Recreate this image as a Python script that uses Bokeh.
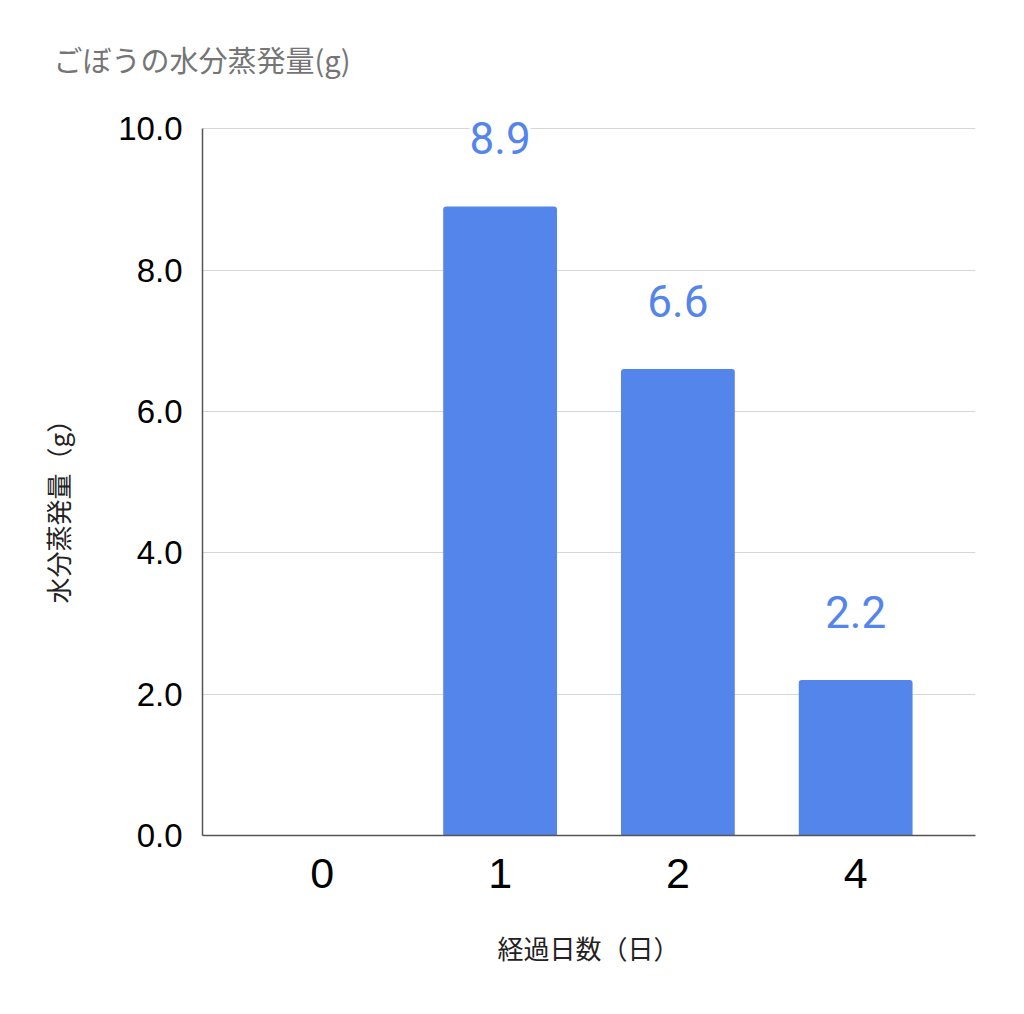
from bokeh.plotting import figure
from bokeh.models import (ColumnDataSource, FactorRange, Range1d, FixedTicker,
                          NumeralTickFormatter, LabelSet, Title)
from bokeh.core.properties import value
from bokeh.embed import file_html
from bokeh.resources import INLINE

# ---- data ----
days = ["0", "1", "2", "4"]
evaporation = [0.0, 8.9, 6.6, 2.2]
y_ticks = [0, 2, 4, 6, 8, 10]
title_text = "ごぼうの水分蒸発量(g)"
y_title = "水分蒸発量（g）"
x_title = "経過日数（日）"

BLUE = "#5485EB"
JP_FONT = "Noto Sans CJK JP"
W, H = 1000, 1005

src = ColumnDataSource(dict(day=days, val=evaporation))
lab_days = [d for d, v in zip(days, evaporation) if v > 0]
lab_vals = [v for v in evaporation if v > 0]
lab_src = ColumnDataSource(dict(day=lab_days, val=lab_vals,
                                txt=[f"{v:.1f}" for v in lab_vals]))

p = figure(width=W, height=H, output_backend="svg", toolbar_location=None,
           x_range=FactorRange(factors=days, range_padding=0.174,
                               range_padding_units="absolute"),
           y_range=Range1d(0, 10.2),
           min_border_left=202, min_border_right=25,
           min_border_top=114, min_border_bottom=170)
p.outline_line_color = None
p.background_fill_color = "white"

p.vbar(x="day", top="val", width=0.64, source=src, fill_color=BLUE,
       line_color=None, border_radius=(3, 3, 0, 0))

labels = LabelSet(x="day", y="val", text="txt", source=lab_src,
                  y_offset=52, text_align="center", text_baseline="alphabetic",
                  text_font=value("Roboto"), text_font_size=value("44px"),
                  text_color=value(BLUE),
                  background_fill_color="white")
p.add_layout(labels)

# axes
p.yaxis.ticker = FixedTicker(ticks=y_ticks)
p.yaxis.formatter = NumeralTickFormatter(format="0.0")
p.yaxis.bounds = (0, 10)
for ax in (p.xaxis[0], p.yaxis[0]):
    ax.major_tick_line_color = None
    ax.minor_tick_line_color = None
    ax.axis_line_color = "#555555"
    ax.axis_line_width = 1.5
    ax.major_label_text_color = "#000000"
    ax.major_label_text_font = "Liberation Sans"
p.yaxis.major_label_text_font_size = "33px"
p.yaxis.major_label_standoff = 14
p.xaxis.major_label_text_font_size = "43px"
p.xaxis.major_label_standoff = 17

p.xgrid.grid_line_color = None
p.ygrid.grid_line_color = "#d6d6d6"
p.ygrid.grid_line_width = 1

# chart title
p.title.text = title_text
p.title.align = "left"
p.title.offset = -149
p.title.vertical_align = "bottom"
p.title.standoff = 70
p.title.text_font = JP_FONT
p.title.text_font_size = "29px"
p.title.text_font_style = "normal"
p.title.text_color = "#757575"

# axis titles
p.add_layout(Title(text=y_title, align="left", offset=232, vertical_align="top",
                   standoff=76, text_font=JP_FONT, text_font_size="26px",
                   text_font_style="normal", text_color="#222222"), "left")
p.add_layout(Title(text=x_title, align="left", offset=295, vertical_align="top",
                   standoff=76, text_font=JP_FONT, text_font_size="26px",
                   text_font_style="normal", text_color="#222222"), "below")

open("out.html", "w").write(file_html(p, INLINE))
